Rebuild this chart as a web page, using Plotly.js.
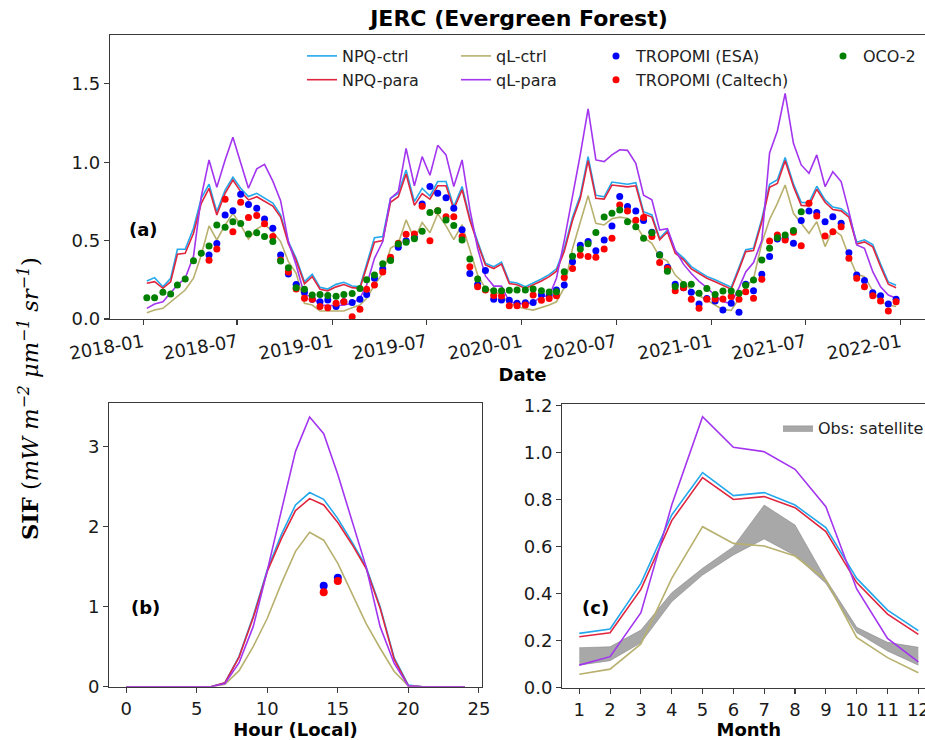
<!DOCTYPE html>
<html>
<head>
<meta charset="utf-8">
<script src="https://cdn.plot.ly/plotly-3.0.1.min.js"></script>
<style>
  html, body { margin: 0; padding: 0; background: #ffffff; overflow: hidden; }
  #chart { width: 950px; height: 740px; }
</style>
</head>
<body>
<div id="chart"></div>
<script>
// Semi-monthly dates (two periods per month), 2018-01 .. 2021-12
const dates = [
  '2018-01-08','2018-01-23','2018-02-08','2018-02-23','2018-03-08','2018-03-23','2018-04-08','2018-04-23',
  '2018-05-08','2018-05-23','2018-06-08','2018-06-23','2018-07-08','2018-07-23','2018-08-08','2018-08-23',
  '2018-09-08','2018-09-23','2018-10-08','2018-10-23','2018-11-08','2018-11-23','2018-12-08','2018-12-23',
  '2019-01-08','2019-01-23','2019-02-08','2019-02-23','2019-03-08','2019-03-23','2019-04-08','2019-04-23',
  '2019-05-08','2019-05-23','2019-06-08','2019-06-23','2019-07-08','2019-07-23','2019-08-08','2019-08-23',
  '2019-09-08','2019-09-23','2019-10-08','2019-10-23','2019-11-08','2019-11-23','2019-12-08','2019-12-23',
  '2020-01-08','2020-01-23','2020-02-08','2020-02-23','2020-03-08','2020-03-23','2020-04-08','2020-04-23',
  '2020-05-08','2020-05-23','2020-06-08','2020-06-23','2020-07-08','2020-07-23','2020-08-08','2020-08-23',
  '2020-09-08','2020-09-23','2020-10-08','2020-10-23','2020-11-08','2020-11-23','2020-12-08','2020-12-23',
  '2021-01-08','2021-01-23','2021-02-08','2021-02-23','2021-03-08','2021-03-23','2021-04-08','2021-04-23',
  '2021-05-08','2021-05-23','2021-06-08','2021-06-23','2021-07-08','2021-07-23','2021-08-08','2021-08-23',
  '2021-09-08','2021-09-23','2021-10-08','2021-10-23','2021-11-08','2021-11-23','2021-12-08','2021-12-23'
];

// Modelled SIF time series (mW m-2 um-1 sr-1)
const npqCtrl = [
  0.243,0.264,0.206,0.26,0.445,0.445,0.579,0.77,0.86,0.685,0.823,0.904,0.834,0.781,0.802,0.77,
  0.74,0.664,0.494,0.387,0.238,0.285,0.202,0.191,0.221,0.234,0.211,0.206,0.355,0.519,0.526,0.77,
  0.802,0.951,0.749,0.834,0.785,0.877,0.877,0.717,0.845,0.643,0.494,0.355,0.334,0.362,0.238,0.23,
  0.206,0.228,0.255,0.283,0.32,0.45,0.65,0.79,1.036,0.79,0.78,0.874,0.868,0.86,0.87,0.685,
  0.664,0.515,0.568,0.435,0.39,0.334,0.302,0.272,0.25,0.228,0.203,0.33,0.442,0.451,0.638,0.86,
  0.889,1.03,0.862,0.744,0.742,0.847,0.76,0.714,0.704,0.664,0.49,0.505,0.475,0.35,0.236,0.215
];
const npqPara = [
  0.228,0.238,0.196,0.238,0.413,0.419,0.547,0.738,0.834,0.664,0.802,0.887,0.813,0.76,0.78,0.753,
  0.72,0.65,0.48,0.375,0.225,0.27,0.19,0.18,0.205,0.22,0.2,0.196,0.33,0.49,0.5,0.745,
  0.78,0.925,0.725,0.8,0.765,0.85,0.85,0.7,0.825,0.63,0.48,0.345,0.322,0.35,0.226,0.218,
  0.195,0.216,0.242,0.27,0.305,0.43,0.63,0.77,1.01,0.77,0.765,0.855,0.85,0.843,0.85,0.67,
  0.65,0.505,0.555,0.42,0.378,0.32,0.29,0.26,0.238,0.215,0.19,0.315,0.43,0.437,0.62,0.84,
  0.865,1.01,0.845,0.725,0.722,0.828,0.745,0.698,0.69,0.65,0.478,0.492,0.46,0.335,0.222,0.2
];
const qlCtrl = [
  0.04,0.057,0.068,0.11,0.143,0.185,0.26,0.409,0.594,0.504,0.6,0.674,0.6,0.51,0.574,0.604,
  0.557,0.494,0.366,0.291,0.1,0.089,0.051,0.051,0.051,0.051,0.072,0.089,0.132,0.217,0.291,0.451,
  0.483,0.632,0.51,0.615,0.55,0.672,0.594,0.507,0.602,0.435,0.28,0.195,0.178,0.153,0.1,0.08,
  0.065,0.057,0.075,0.089,0.11,0.2,0.45,0.62,0.787,0.61,0.6,0.64,0.65,0.643,0.6,0.521,
  0.483,0.395,0.37,0.28,0.23,0.185,0.15,0.12,0.085,0.06,0.055,0.13,0.206,0.255,0.485,0.635,
  0.738,0.855,0.674,0.61,0.547,0.621,0.462,0.571,0.533,0.4,0.285,0.27,0.18,0.11,0.089,0.08
];
const qlPara = [
  0.068,0.096,0.11,0.164,0.217,0.26,0.4,0.78,1.015,0.84,1.015,1.16,0.994,0.834,0.958,0.987,
  0.88,0.755,0.494,0.345,0.153,0.143,0.089,0.085,0.085,0.089,0.1,0.132,0.217,0.387,0.494,0.77,
  0.813,1.089,0.85,1.036,0.917,1.108,1.047,0.845,1.015,0.7,0.45,0.275,0.21,0.21,0.11,0.1,
  0.095,0.105,0.145,0.146,0.26,0.5,0.78,1.05,1.34,1.015,1.004,1.047,1.08,1.076,0.994,0.79,
  0.76,0.568,0.576,0.44,0.35,0.29,0.24,0.2,0.15,0.11,0.1,0.2,0.3,0.36,0.5,1.06,
  1.2,1.44,1.121,0.983,0.93,1.047,0.845,0.94,0.877,0.685,0.472,0.451,0.302,0.206,0.153,0.132
];

// Satellite retrievals (null = no retrieval for that period)
const tropomiEsa = [
  null,null,null,null,null,null,null,null,0.409,0.482,0.664,0.69,0.796,0.73,0.706,0.638,
  0.579,0.408,0.287,0.22,0.17,0.126,0.11,0.121,0.079,0.11,0.106,0.126,0.157,0.26,0.319,0.38,
  0.457,0.5,0.52,0.734,0.845,0.802,0.774,0.706,0.57,0.29,0.22,0.31,0.126,0.121,0.12,0.1,
  0.104,0.106,0.153,0.153,0.185,0.217,0.366,0.47,0.494,0.436,0.504,0.594,0.781,0.717,0.689,0.628,
  0.553,0.41,0.33,0.221,0.2,0.17,0.096,0.13,0.115,0.057,0.1,0.043,0.221,0.181,0.285,0.398,
  0.51,0.515,0.483,0.628,0.689,0.679,0.621,0.653,0.611,0.423,0.281,0.245,0.168,0.149,0.096,0.126
];
const tropomiCaltech = [
  null,null,null,null,null,null,null,null,0.375,0.446,0.764,0.557,0.745,0.647,0.66,0.607,
  0.526,0.377,0.3,0.191,0.132,0.126,0.079,0.072,0.1,0.11,0.015,0.062,0.19,0.217,0.3,0.394,
  0.483,0.54,0.542,0.72,0.5,0.69,0.653,0.653,0.526,0.334,0.206,0.185,0.15,0.147,0.085,0.085,
  0.089,0.153,0.12,0.13,0.149,0.264,0.323,0.406,0.398,0.394,0.447,0.515,0.727,0.689,0.63,0.647,
  0.526,0.36,0.323,0.181,0.2,0.126,0.068,0.126,0.128,0.128,0.143,0.126,0.174,0.132,0.253,0.498,
  0.536,0.504,0.553,0.468,0.738,0.657,0.53,0.557,0.589,0.387,0.26,0.206,0.149,0.115,0.051,0.11
];
const oco2 = [
  0.136,0.136,0.17,0.16,0.217,0.255,0.372,0.42,0.466,0.6,0.585,0.621,0.61,0.543,0.55,0.526,
  0.494,0.37,0.327,0.2,0.19,0.153,0.157,0.15,0.145,0.157,0.163,0.194,0.25,0.28,0.352,0.374,
  0.478,0.49,0.512,0.56,0.68,0.69,0.632,0.596,0.504,0.383,0.255,0.191,0.18,0.18,0.183,0.185,
  0.185,0.191,0.181,0.172,0.174,0.302,0.4,0.447,0.48,0.552,0.651,0.674,0.696,0.621,0.589,0.515,
  0.55,0.409,0.305,0.208,0.22,0.221,0.164,0.195,0.157,0.179,0.179,0.164,0.215,0.249,0.377,0.451,
  0.519,0.536,0.564,0.685,null,null,null,null,null,null,null,null,null,null,null,null
];

// Mean diurnal cycle
const hours = [0,1,2,3,4,5,6,7,8,9,10,11,12,13,14,15,16,17,18,19,20,21,22,23,24];
const hourNpqCtrl = [0,0,0,0,0,0,0,0.05,0.38,0.88,1.46,1.9,2.27,2.425,2.34,2.1,1.81,1.5,1.0,0.36,0.02,0,0,0,0];
const hourNpqPara = [0,0,0,0,0,0,0,0.05,0.37,0.86,1.44,1.85,2.2,2.35,2.27,2.05,1.78,1.48,0.98,0.34,0.01,0,0,0,0];
const hourQlCtrl  = [0,0,0,0,0,0,0,0.03,0.2,0.5,0.855,1.29,1.69,1.93,1.83,1.54,1.17,0.79,0.48,0.19,0.01,0,0,0,0];
const hourQlPara  = [0,0,0,0,0,0,0,0.04,0.3,0.75,1.45,2.2,2.94,3.37,3.16,2.65,2.08,1.5,0.75,0.29,0.01,0,0,0,0];
const hourSat = [14, 15];
const hourEsa = [1.26, 1.36];
const hourCaltech = [1.18, 1.32];

// Mean seasonal cycle
const months = [1,2,3,4,5,6,7,8,9,10,11,12];
const monNpqCtrl = [0.231,0.25,0.444,0.735,0.915,0.817,0.83,0.777,0.681,0.465,0.33,0.243];
const monNpqPara = [0.217,0.234,0.418,0.711,0.894,0.801,0.813,0.766,0.664,0.447,0.313,0.227];
const monQlCtrl  = [0.057,0.079,0.186,0.465,0.685,0.614,0.603,0.56,0.458,0.214,0.128,0.064];
const monQlPara  = [0.096,0.132,0.319,0.777,1.153,1.023,1.004,0.929,0.77,0.42,0.21,0.11];
const obsLow  = [0.096,0.115,0.191,0.366,0.479,0.565,0.633,0.562,0.444,0.235,0.156,0.096];
const obsHigh = [0.17,0.174,0.245,0.404,0.508,0.6,0.777,0.692,0.461,0.257,0.193,0.172];

const C = {
  npqCtrl: '#24a8ec',
  npqPara: '#e0263f',
  qlCtrl: '#b8b06e',
  qlPara: '#a335ef',
  esa: '#0000ff',
  caltech: '#ff0000',
  oco: '#008000'
};
const LW = 1.6;
const FONT = 'DejaVu Sans, Verdana, sans-serif';

function line(x, y, name, color, xa, ya, legend, show) {
  return {
    type: 'scatter', mode: 'lines', x: x, y: y, name: name,
    line: { color: color, width: LW },
    xaxis: xa, yaxis: ya, legend: legend, showlegend: show, hoverinfo: 'skip'
  };
}
function dots(x, y, name, color, xa, ya, legend, show, size) {
  return {
    type: 'scatter', mode: 'markers', x: x, y: y, name: name,
    marker: { color: color, size: size, line: { width: 0 } },
    xaxis: xa, yaxis: ya, legend: legend, showlegend: show, hoverinfo: 'skip'
  };
}

const traces = [
  // (a) time series
  line(dates, npqCtrl, 'NPQ-ctrl', C.npqCtrl, 'x', 'y', 'legend', true),
  line(dates, npqPara, 'NPQ-para', C.npqPara, 'x', 'y', 'legend', true),
  line(dates, qlCtrl, 'qL-ctrl', C.qlCtrl, 'x', 'y', 'legend2', true),
  line(dates, qlPara, 'qL-para', C.qlPara, 'x', 'y', 'legend2', true),
  dots(dates, tropomiEsa, 'TROPOMI (ESA)', C.esa, 'x', 'y', 'legend3', true, 7),
  dots(dates, tropomiCaltech, 'TROPOMI (Caltech)', C.caltech, 'x', 'y', 'legend3', true, 7),
  dots(dates, oco2, 'OCO-2', C.oco, 'x', 'y', 'legend4', true, 7),

  // (b) diurnal cycle
  line(hours, hourNpqCtrl, 'NPQ-ctrl', C.npqCtrl, 'x2', 'y2', 'legend', false),
  line(hours, hourNpqPara, 'NPQ-para', C.npqPara, 'x2', 'y2', 'legend', false),
  line(hours, hourQlCtrl, 'qL-ctrl', C.qlCtrl, 'x2', 'y2', 'legend', false),
  line(hours, hourQlPara, 'qL-para', C.qlPara, 'x2', 'y2', 'legend', false),
  dots(hourSat, hourEsa, 'TROPOMI (ESA)', C.esa, 'x2', 'y2', 'legend', false, 8),
  dots(hourSat, hourCaltech, 'TROPOMI (Caltech)', C.caltech, 'x2', 'y2', 'legend', false, 8),

  // (c) seasonal cycle: satellite range band first, model lines on top
  {
    type: 'scatter', mode: 'lines', x: months, y: obsLow, name: 'obs-low',
    line: { color: '#8a8a8a', width: 0.6 }, xaxis: 'x3', yaxis: 'y3',
    showlegend: false, hoverinfo: 'skip'
  },
  {
    type: 'scatter', mode: 'lines', x: months, y: obsHigh, name: 'Obs: satellite',
    line: { color: '#8a8a8a', width: 0.6 }, fill: 'tonexty', fillcolor: '#a8a8a8',
    xaxis: 'x3', yaxis: 'y3', legend: 'legend5', showlegend: true, hoverinfo: 'skip'
  },
  line(months, monNpqCtrl, 'NPQ-ctrl', C.npqCtrl, 'x3', 'y3', 'legend', false),
  line(months, monNpqPara, 'NPQ-para', C.npqPara, 'x3', 'y3', 'legend', false),
  line(months, monQlCtrl, 'qL-ctrl', C.qlCtrl, 'x3', 'y3', 'legend', false),
  line(months, monQlPara, 'qL-para', C.qlPara, 'x3', 'y3', 'legend', false)
];

const W = 950, H = 740;
const px = v => v / W;
const py = v => 1 - v / H;

const axisBase = {
  showline: true, mirror: true, linecolor: '#3a3a3a', linewidth: 1.2,
  ticks: 'outside', ticklen: 5, tickwidth: 1.1, tickcolor: '#3a3a3a',
  showgrid: false, zeroline: false,
  tickfont: { family: FONT, size: 18, color: '#1a1a1a' }
};
const titleFont = { family: FONT, size: 18, color: '#000', weight: 'bold' };

const legendBase = {
  bgcolor: 'rgba(0,0,0,0)', borderwidth: 0,
  font: { family: FONT, size: 16, color: '#222' },
  xanchor: 'left', yanchor: 'top', tracegroupgap: 0, itemwidth: 30
};

const layout = {
  width: W, height: H,
  margin: { l: 0, r: 0, t: 0, b: 0 },
  paper_bgcolor: '#ffffff', plot_bgcolor: '#ffffff',
  showlegend: true,
  title: {
    text: '<b>JERC (Evergreen Forest)</b>',
    font: { family: FONT, size: 22, color: '#000' },
    x: px(519), xanchor: 'center', y: py(18), yanchor: 'middle'
  },
  xaxis: Object.assign({}, axisBase, {
    domain: [px(110), px(935)], anchor: 'y', type: 'date',
    range: ['2017-10-29', '2022-03-08'],
    tick0: '2018-01-01', dtick: 'M6', tickformat: '%Y-%m', tickangle: -10,
    title: { text: 'Date', font: titleFont, standoff: 4 }
  }),
  yaxis: Object.assign({}, axisBase, {
    domain: [py(319), py(35)], anchor: 'x',
    range: [0, 1.812], tickvals: [0, 0.5, 1.0, 1.5], ticktext: ['0.0', '0.5', '1.0', '1.5']
  }),
  xaxis2: Object.assign({}, axisBase, {
    domain: [px(109.3), px(481.7)], anchor: 'y2',
    range: [-1.2, 25.2], tickvals: [0, 5, 10, 15, 20, 25],
    title: { text: 'Hour (Local)', font: titleFont, standoff: 4 }
  }),
  yaxis2: Object.assign({}, axisBase, {
    domain: [py(686.7), py(403.3)], anchor: 'x2',
    range: [0, 3.54], tickvals: [0, 1, 2, 3]
  }),
  xaxis3: Object.assign({}, axisBase, {
    domain: [px(562.3), px(935.3)], anchor: 'y3',
    range: [0.45, 12.55], tickvals: months,
    title: { text: 'Month', font: titleFont, standoff: 4 }
  }),
  yaxis3: Object.assign({}, axisBase, {
    domain: [py(687.7), py(404)], anchor: 'x3',
    range: [0, 1.207], tickvals: [0, 0.2, 0.4, 0.6, 0.8, 1.0, 1.2],
    ticktext: ['0.0', '0.2', '0.4', '0.6', '0.8', '1.0', '1.2']
  }),
  legend: Object.assign({}, legendBase, { x: px(302), y: py(39) }),
  legend2: Object.assign({}, legendBase, { x: px(456), y: py(39) }),
  legend3: Object.assign({}, legendBase, { x: px(596), y: py(39) }),
  legend4: Object.assign({}, legendBase, { x: px(823), y: py(39) }),
  legend5: Object.assign({}, legendBase, { x: px(778), y: py(411) }),
  annotations: [
    { text: '<b>(a)</b>', x: px(143), y: py(229), xref: 'paper', yref: 'paper',
      xanchor: 'center', yanchor: 'middle', showarrow: false,
      font: { family: FONT, size: 18, color: '#000' } },
    { text: '<b>(b)</b>', x: px(145), y: py(607), xref: 'paper', yref: 'paper',
      xanchor: 'center', yanchor: 'middle', showarrow: false,
      font: { family: FONT, size: 18, color: '#000' } },
    { text: '<b>(c)</b>', x: px(595), y: py(607), xref: 'paper', yref: 'paper',
      xanchor: 'center', yanchor: 'middle', showarrow: false,
      font: { family: FONT, size: 18, color: '#000' } },
    { text: '<b>SIF</b> (<i>mW m<sup>−2</sup> μm<sup>−1</sup> sr<sup>−1</sup></i>)',
      x: px(28), y: py(399), xref: 'paper', yref: 'paper',
      xanchor: 'center', yanchor: 'middle', showarrow: false, textangle: -90,
      font: { family: 'DejaVu Serif, serif', size: 22.5, color: '#000' } }
  ]
};

Plotly.newPlot('chart', traces, layout, { staticPlot: true, displayModeBar: false });
</script>
</body>
</html>
